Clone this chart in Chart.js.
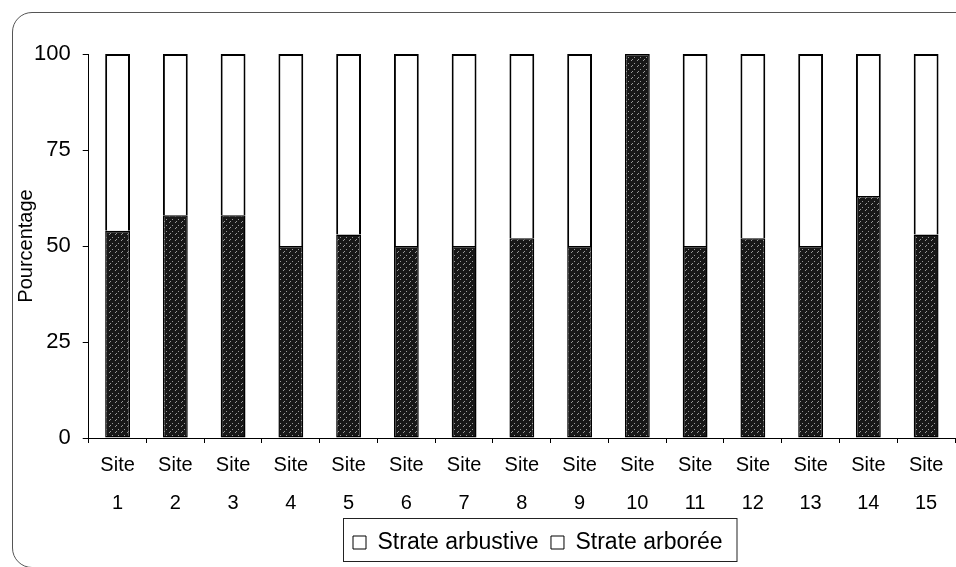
<!DOCTYPE html>
<html>
<head>
<meta charset="utf-8">
<script src="https://cdn.jsdelivr.net/npm/chart.js@4.4.1/dist/chart.umd.min.js"></script>
<style>
  html, body { margin: 0; padding: 0; background: #fff; }
  #wrap { position: relative; width: 956px; height: 567px; overflow: hidden; }
  #frame {
    position: absolute; left: 12px; top: 12px; width: 1000px; height: 556px;
    border: 1.5px solid #555; border-radius: 20px; box-sizing: border-box;
  }
  #chart { position: absolute; left: 0; top: 0; }
</style>
</head>
<body>
<div id="wrap">
  <div id="frame"></div>
  <canvas id="chart" width="956" height="567"></canvas>
</div>
<script>
// categories and values
const sites = ['1', '2', '3', '4', '5', '6', '7', '8', '9', '10', '11', '12', '13', '14', '15'];
const arbustive = [54, 58, 58, 50, 53, 50, 50, 52, 50, 100, 50, 52, 50, 63, 53];
const arboree = [46, 42, 42, 50, 47, 50, 50, 48, 50, 0, 50, 48, 50, 37, 47];
const yTicks = [0, 25, 50, 75, 100];

const FONT = "'Liberation Sans', Arial, sans-serif";

// dark speckled fill, like the scanned shading
function speckle() {
    const c = document.createElement('canvas');
    c.width = 6; c.height = 6;
    const g = c.getContext('2d');
    g.fillStyle = '#181818';
    g.fillRect(0, 0, 6, 6);
    g.fillStyle = '#9a9a9a';
    [[1, 0], [4, 3], [2, 5]].forEach(p => g.fillRect(p[0], p[1], 1, 1));
    return g.createPattern(c, 'repeat');
}

// legend sits right of centre in the original, with a box round it
const LEGEND_LEFT = 343;
const legendBox = {
    id: 'legendBox',
    beforeDraw(chart) {
        const lg = chart.legend;
        if (!lg || !lg.legendHitBoxes.length || lg._moved) return;
        const hb = lg.legendHitBoxes;
        const dx = LEGEND_LEFT - (Math.min(...hb.map(h => h.left)) - 10);
        lg.left += dx;
        lg.right += dx;
        hb.forEach(h => { h.left += dx; });
        lg._moved = true;
    },
    afterDraw(chart) {
        const lg = chart.legend;
        if (!lg || !lg.legendHitBoxes.length) return;
        const hb = lg.legendHitBoxes;
        const left = Math.min(...hb.map(h => h.left)) - 10;
        const right = Math.max(...hb.map(h => h.left + h.width)) + 14;
        const top = Math.min(...hb.map(h => h.top)) - 13;
        const bottom = Math.max(...hb.map(h => h.top + h.height)) + 7;
        const ctx = chart.ctx;
        ctx.save();
        ctx.strokeStyle = '#222';
        ctx.lineWidth = 1;
        ctx.strokeRect(left + 0.5, top + 0.5, right - left, bottom - top);
        ctx.restore();
    }
};

const ctx = document.getElementById('chart').getContext('2d');
new Chart(ctx, {
    type: 'bar',
    data: {
        labels: sites.map(s => ['Site', s]),
        datasets: [
            {
                label: 'Strate arbustive',
                data: arbustive,
                backgroundColor: speckle(),
                borderColor: '#000',
                borderWidth: 1.5,
                borderSkipped: false
            },
            {
                label: 'Strate arborée',
                data: arboree,
                backgroundColor: '#fff',
                borderColor: '#000',
                borderWidth: 2,
                borderSkipped: 'start'
            }
        ]
    },
    options: {
        responsive: false,
        animation: false,
        layout: { padding: { left: 14, right: 1, top: 54, bottom: 3 } },
        datasets: { bar: { barPercentage: 0.43, categoryPercentage: 1 } },
        plugins: {
            tooltip: { enabled: false },
            legend: {
                position: 'bottom',
                labels: {
                    color: '#000',
                    font: { family: FONT, size: 23 },
                    boxWidth: 13,
                    boxHeight: 13,
                    padding: 6,
                    generateLabels: (chart) => chart.data.datasets.map((d, i) => ({
                        text: i === 0 ? d.label + ' ' : d.label,
                        fillStyle: '#fff',
                        strokeStyle: '#000',
                        lineWidth: 1,
                        datasetIndex: i
                    }))
                }
            }
        },
        scales: {
            x: {
                stacked: true,
                grid: { display: true, drawOnChartArea: false, offset: true, tickLength: 5, color: '#000' },
                border: { color: '#000', width: 1 },
                ticks: { color: '#000', font: { family: FONT, size: 20, lineHeight: 1.9 }, padding: 3, maxRotation: 0 }
            },
            y: {
                stacked: true,
                min: 0,
                max: 100,
                afterBuildTicks: (axis) => { axis.ticks = yTicks.map(v => ({ value: v })); },
                grid: { display: true, drawOnChartArea: false, tickLength: 6, color: '#000' },
                border: { color: '#000', width: 1 },
                ticks: { color: '#000', font: { family: FONT, size: 22 }, padding: 12 },
                title: {
                    display: true, text: 'Pourcentage', color: '#000',
                    font: { family: FONT, size: 20 }, padding: { top: 0, bottom: -16 }
                }
            }
        }
    },
    plugins: [legendBox]
});
</script>
</body>
</html>
